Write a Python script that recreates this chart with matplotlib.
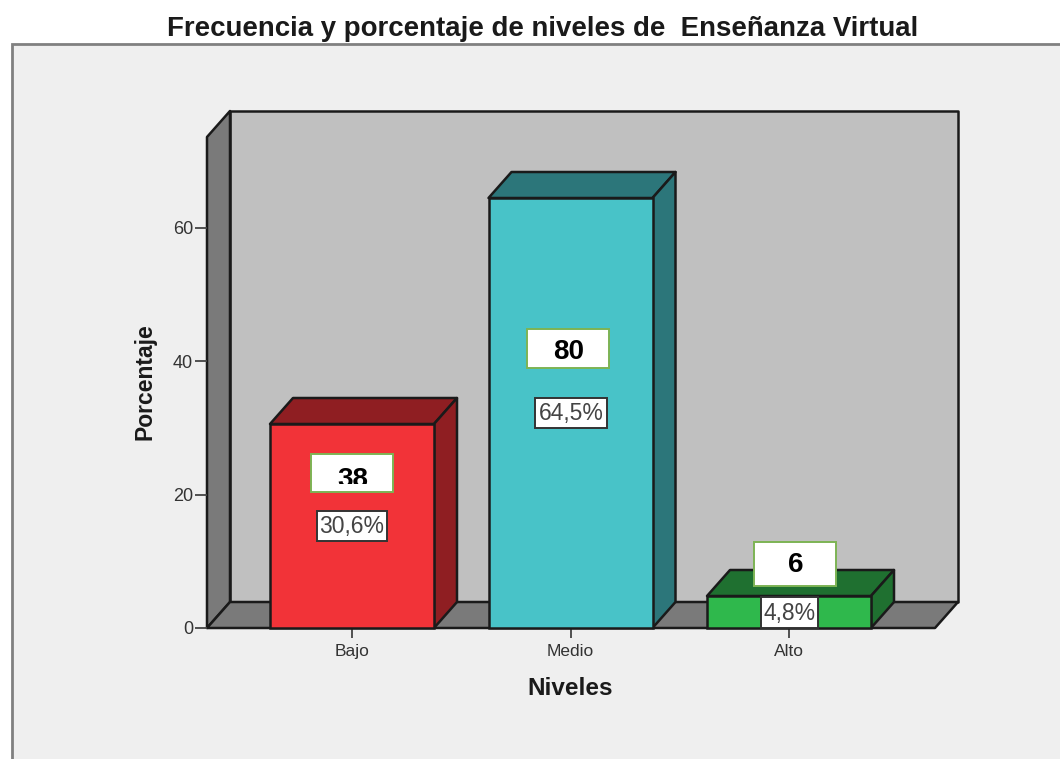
import matplotlib
matplotlib.use("Agg")
import matplotlib.pyplot as plt
from matplotlib.patches import Polygon, Rectangle

niveles = ["Bajo", "Medio", "Alto"]
porcentaje = [30.6, 64.5, 4.8]
frecuencia = [38, 80, 6]
etiquetas = ["30,6%", "64,5%", "4,8%"]
yticks = [0, 20, 40, 60]
frente = ["#f23338", "#48c3c8", "#2fb84c"]
oscuro = ["#8f1e22", "#2c767a", "#1f7030"]

W, H = 1060, 759
plt.rcParams["font.family"] = ["Liberation Sans", "DejaVu Sans"]

fig = plt.figure(figsize=(W / 100, H / 100), dpi=100, facecolor="white")

def px(x, y):
    return x / W, 1 - y / H

# panel gris de fondo
fig.add_artist(Rectangle((12 / W, -0.01), 1.1, 1 - 44 / H + 0.01, transform=fig.transFigure,
                         fc="#efefef", ec="#808080", lw=2, zorder=-1))

# ejes: 0 en y=628, 60 en y=228, categorias cada 218.5 px
left, right, top, bottom = 207, 958, 111, 628
ax = fig.add_axes([left / W, 1 - bottom / H, (right - left) / W, (bottom - top) / H])
ax.patch.set_alpha(0)
x0 = -145 / 218.5
dx = 23 / 218.5
dy = 26 / (400 / 60)
x1 = x0 + 728 / 218.5
ax.set_xlim(x0, x1 + dx)
ax.set_ylim(0, (bottom - top) / (400 / 60))
for s in ax.spines.values():
    s.set_visible(False)
ytop = ax.get_ylim()[1]
borde = dict(ec="#1a1a1a", lw=1.8, joinstyle="round", clip_on=False)

# pared, lateral y piso
ax.add_patch(Polygon([(x0 + dx, dy), (x1 + dx, dy), (x1 + dx, ytop), (x0 + dx, ytop)], fc="#c0c0c0", **borde))
ax.add_patch(Polygon([(x0, 0), (x0 + dx, dy), (x0 + dx, ytop), (x0, ytop - dy)], fc="#7a7a7a", **borde))
ax.add_patch(Polygon([(x0, 0), (x1, 0), (x1 + dx, dy), (x0 + dx, dy)], fc="#7a7a7a", **borde))

# barras 3d
ancho = 164 / 218.5
for i, v in enumerate(porcentaje):
    a, b = i - ancho / 2, i + ancho / 2
    ax.add_patch(Polygon([(a, v), (b, v), (b + dx, v + dy), (a + dx, v + dy)], fc=oscuro[i], zorder=3, **borde))
    ax.add_patch(Polygon([(b, 0), (b + dx, dy), (b + dx, v + dy), (b, v)], fc=oscuro[i], zorder=3, **borde))
    ax.bar(i, v, width=ancho, color=frente[i], edgecolor="#1a1a1a", linewidth=1.8, zorder=4, clip_on=False)

ax.set_xticks(range(len(niveles)))
ax.set_xticklabels(niveles, fontsize=12.5, color="#333333")
ax.set_yticks(yticks)
ax.set_yticklabels([str(t) for t in yticks], fontsize=13, color="#333333")
ax.tick_params(axis="x", length=7, width=1.3, color="#444444", pad=4.5)
ax.tick_params(axis="y", length=9, width=1.3, color="#444444", pad=1)
ax.set_xlabel("Niveles", fontsize=17.5, fontweight="bold", color="#1a1a1a")
ax.xaxis.set_label_coords((570 - left) / (right - left), -0.094)
ax.set_ylabel("Porcentaje", fontsize=16.5, fontweight="bold", color="#1a1a1a")
ax.yaxis.set_label_coords(-(207 - 157) / (right - left), 1 - (382 - top) / (bottom - top))

# recuadros de frecuencia y porcentaje (x0, y0, x1, y1 en pixeles)
cajas_n = [(311, 454, 393, 492), (527, 329, 609, 368), (754, 542, 836, 586)]
cajas_p = [(317, 511, 387, 541), (535, 398, 607, 428), (761, 597, 818, 628)]
texto_y = [480, 352, 565]
corte_y = [484, 368, 586]  # el 38 sale cortado abajo
for i in range(3):
    c = cajas_n[i]
    fig.add_artist(Rectangle(px(c[0], c[3]), (c[2] - c[0]) / W, (c[3] - c[1]) / H, transform=fig.transFigure,
                             fc="white", ec="#7db354", lw=1.4, zorder=6))
    t = fig.text(*px((c[0] + c[2]) / 2 + 1, texto_y[i]), str(frecuencia[i]), ha="center", va="center",
                 fontsize=20, fontweight="bold", color="black", zorder=7)
    t.set_clip_on(True)
    t.set_clip_path(Rectangle(px(c[0], corte_y[i]), (c[2] - c[0]) / W, (corte_y[i] - c[1]) / H,
                              transform=fig.transFigure))
    c = cajas_p[i]
    fig.add_artist(Rectangle(px(c[0], c[3]), (c[2] - c[0]) / W, (c[3] - c[1]) / H, transform=fig.transFigure,
                             fc="white", ec="#333333", lw=1.4, zorder=6))
    fig.text(*px((c[0] + c[2]) / 2, (c[1] + c[3]) / 2 + 1), etiquetas[i], ha="center", va="center",
             fontsize=16.5, color="#444444", zorder=7)

fig.text(*px(543, 29), "Frecuencia y porcentaje de niveles de  Enseñanza Virtual", ha="center", va="center",
         fontsize=19.9, fontweight="bold", color="#1a1a1a")

plt.savefig("out.png", dpi=100, facecolor="white")
